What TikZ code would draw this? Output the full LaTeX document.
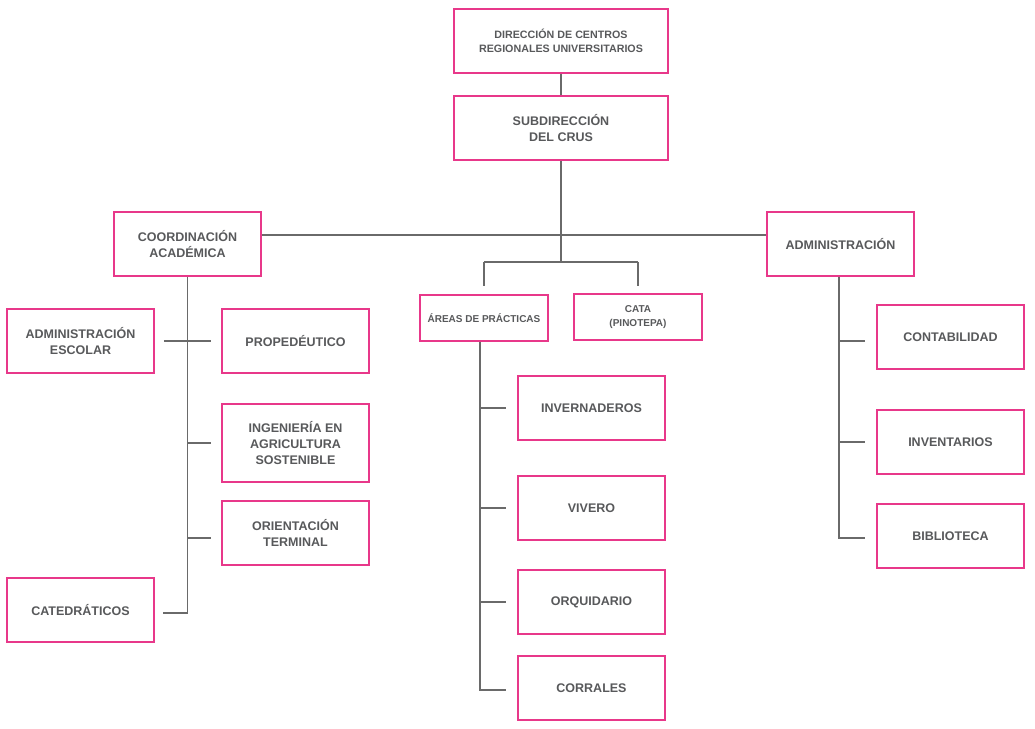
\documentclass[tikz,border=0pt]{standalone}
\usepackage{fontspec}
\setmainfont{Liberation Sans}
\usepackage{tikz}
\usetikzlibrary{positioning,calc}
\definecolor{crusPink}{HTML}{E8388A}
\definecolor{crusText}{HTML}{58595B}
\definecolor{crusLine}{HTML}{6A6A6A}
\tikzset{
		unit/.style={draw=crusPink,line width=1.6pt,fill=white,text=crusText,
			minimum width=147pt,minimum height=64pt,align=center,inner sep=2pt,
			font=\fontsize{12.5}{16}\selectfont\bfseries},
		small unit/.style={unit,font=\fontsize{10.7}{14}\selectfont\bfseries},
		narrow unit/.style={unit,minimum width=128pt,minimum height=46pt,
			font=\fontsize{10}{14}\selectfont\bfseries},
		link/.style={draw=crusLine,line width=1.8pt},
		}

\begin{document}
\begin{tikzpicture}[x=1pt,y=-1pt]
	\useasboundingbox (0,0) rectangle (1035,728);
	%NODES top
	\node[small unit,minimum width=214pt](dir) at (561,41){DIRECCIÓN DE CENTROS\\REGIONALES UNIVERSITARIOS};
	\node[unit,minimum width=214pt](sub) at (561,128){SUBDIRECCIÓN\\DEL CRUS};
	\node[unit](coord) at (187.5,244){COORDINACIÓN\\ACADÉMICA};
	\node[unit](admin) at (840.5,244){ADMINISTRACIÓN};
	%NODES under Coordinacion
	\node[unit](escolar) at (80.5,341){ADMINISTRACIÓN\\ESCOLAR};
	\node[unit](prop) at (295.5,341){PROPEDÉUTICO};
	\node[unit,minimum height=78pt](ing) at (295.5,443){INGENIERÍA EN\\AGRICULTURA\\SOSTENIBLE};
	\node[unit](orient) at (295.5,533){ORIENTACIÓN\\TERMINAL};
	\node[unit](cat) at (80.5,610){CATEDRÁTICOS};
	%NODES middle
	\node[narrow unit](areas) at (484,318){ÁREAS DE PRÁCTICAS};
	\node[narrow unit](cata) at (638,317){CATA\\(PINOTEPA)};
	\node[unit](inv) at (591.5,408){INVERNADEROS};
	\node[unit](viv) at (591.5,508){VIVERO};
	\node[unit](orq) at (591.5,602){ORQUIDARIO};
	\node[unit](corr) at (591.5,688){CORRALES};
	%NODES under Administracion
	\node[unit](cont) at (950.5,337){CONTABILIDAD};
	\node[unit](invent) at (950.5,442){INVENTARIOS};
	\node[unit](bib) at (950.5,536){BIBLIOTECA};
	%PATHS
	\coordinate (bus) at (561,262);
	\draw[link] (dir) -- (sub);
	\draw[link] (sub) -- (bus);
	\draw[link] (coord.east |- 0,235) -- (admin.west |- 0,235);
	\draw[link] (areas.north |- bus) -- (cata.north |- bus);
	\draw[link,shorten >=8pt] (areas.north |- bus) -- (areas.north);
	\draw[link,shorten >=7pt] (cata.north |- bus) -- (cata.north);
	%coordinacion branch
	\draw[link] (coord.south) -- (coord.south |- 0,613) -- ([xshift=8pt]cat.east |- 0,613);
	\draw[link,shorten <=9pt,shorten >=10pt] (escolar) -- (prop);
	\draw[link,shorten >=10pt] (coord.south |- ing.west) -- (ing.west);
	\draw[link,shorten >=10pt] (coord.south |- 0,538) -- (orient.west |- 0,538);
	%areas branch
	\coordinate (atop) at ([xshift=-4pt]areas.south);
	\draw[link] (atop) -- (atop |- 0,690) -- ([xshift=-11pt]corr.west |- 0,690);
	\foreach \b in {inv,viv,orq}
		\draw[link,shorten >=11pt] (atop |- \b.west) -- (\b.west);
	%administracion branch
	\draw[link] ([xshift=-1.5pt]admin.south) coordinate (dtop) -- (dtop |- 0,538) -- ([xshift=-11pt]bib.west |- 0,538);
	\foreach \y/\b in {341/cont,442/invent}
		\draw[link,shorten >=11pt] (dtop |- 0,\y) -- (\b.west |- 0,\y);
\end{tikzpicture}
\end{document}
